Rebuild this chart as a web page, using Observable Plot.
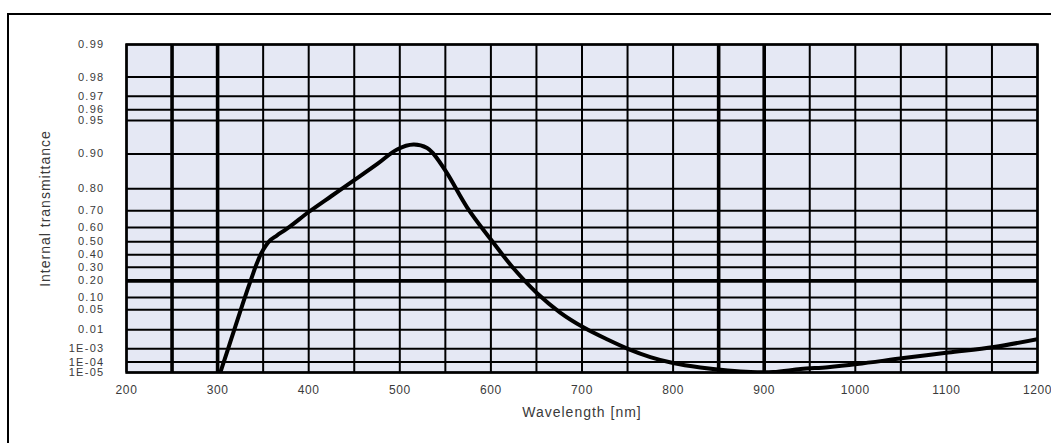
<!DOCTYPE html>
<html>
<head>
<meta charset="utf-8">
<script src="https://cdn.jsdelivr.net/npm/d3@7"></script>
<script src="https://cdn.jsdelivr.net/npm/@observablehq/plot@0.6"></script>
<style>
  html, body { margin: 0; padding: 0; background: #ffffff; }
  #wrap { position: relative; width: 1051px; height: 443px; overflow: hidden; }
  #border { position: absolute; left: 7px; top: 13px; width: 1100px; height: 500px;
            border-left: 2px solid #000; border-top: 2px solid #000; }
  #chart { position: absolute; left: 0; top: 0; }
  svg text { font-family: "Liberation Sans", Arial, sans-serif; letter-spacing: 1px; }
  svg g[aria-label="y-axis tick label"] text { letter-spacing: 1.3px; }
  svg g[aria-label="x-axis tick label"] text { letter-spacing: 0.6px; }
</style>
</head>
<body>
<div id="wrap"><div id="border"></div><div id="chart"></div></div>
<script>
// Data
const wavelength = [303, 308, 313, 318, 323, 328, 333, 338, 343, 348, 353, 358, 365, 380, 400, 425, 450, 475, 497, 515, 530, 537, 552, 574, 600, 625, 651, 676, 702, 728, 751, 775, 800, 830, 860, 885, 910, 940, 970, 1002, 1053, 1102, 1152, 1200];
const transmittance = [1e-5, 1.96e-4, 1.80e-3, 9.29e-3, 0.0313, 0.0770, 0.1469, 0.2344, 0.3297, 0.4124, 0.4707, 0.5117, 0.5445, 0.6091, 0.693, 0.771, 0.831, 0.877, 0.9087, 0.9175, 0.9114, 0.900, 0.852, 0.7167, 0.5155, 0.2908, 0.1209, 0.0417, 0.01245, 3.43e-3, 9.5e-4, 2.58e-4, 8.3e-5, 3.2e-5, 1.6e-5, 1.1e-5, 1.1e-5, 2.26e-5, 3.5e-5, 6.7e-5, 2.15e-4, 5.5e-4, 1.27e-3, 3.64e-3];

const yTickValues = [0.99, 0.98, 0.97, 0.96, 0.95, 0.90, 0.80, 0.70, 0.60, 0.50, 0.40, 0.30, 0.20, 0.10, 0.05, 0.01, 1e-3, 1e-4, 1e-5];
const yTickLabels = ["0.99", "0.98", "0.97", "0.96", "0.95", "0.90", "0.80", "0.70", "0.60", "0.50", "0.40", "0.30", "0.20", "0.10", "0.05", "0.01", "1E-03", "1E-04", "1E-05"];
const xTickValues = [200, 300, 400, 500, 600, 700, 800, 900, 1000, 1100, 1200];
const xGridValues = [200, 250, 300, 350, 400, 450, 500, 550, 600, 650, 700, 750, 800, 850, 900, 950, 1000, 1050, 1100, 1150, 1200];
const xGridThick = [250, 300, 850, 900];
const yGridThick = [0.20];

// double-logarithmic transmittance scale: log10(log10(1/tau))
const f = t => Math.log10(-Math.log10(t));

const curve = wavelength.map((w, i) => ({w, y: f(transmittance[i])}));
const yGrid = yTickValues.map((t, i) => ({y: f(t), thick: yGridThick.includes(t), label: yTickLabels[i]}));
const xGrid = xGridValues.map(w => ({w, thick: xGridThick.includes(w)}));
const labelOf = new Map(yGrid.map(d => [d.y, d.label]));

const chart = Plot.plot({
  width: 1051,
  height: 443,
  marginLeft: 126,
  marginTop: 44,
  marginRight: 14,
  marginBottom: 71,
  style: {background: "transparent", fontFamily: "Liberation Sans, Arial, sans-serif"},
  x: {domain: [200, 1200]},
  y: {domain: [f(1e-5), f(0.99)]},
  marks: [
    Plot.frame({fill: "#e5e8f4", stroke: null}),
    Plot.ruleX(xGrid, {x: "w", stroke: "#000", strokeWidth: d => d.thick ? 3.6 : 2}),
    Plot.ruleY(yGrid, {y: "y", stroke: "#000", strokeWidth: d => d.thick ? 3.6 : 2}),
    Plot.frame({stroke: "#000", strokeWidth: 2.5}),
    Plot.line(curve, {x: "w", y: "y", stroke: "#000", strokeWidth: 4, curve: "catmull-rom", clip: true}),
    Plot.axisX({ticks: xTickValues, tickSize: 0, tickPadding: 13, label: null, fontSize: 12, fill: "#3a3a3a", tickFormat: d => String(d)}),
    Plot.axisY({ticks: yGrid.map(d => d.y), tickSize: 0, tickPadding: 22, label: null, fontSize: 11, fill: "#3a3a3a", tickFormat: d => labelOf.get(d)}),
    Plot.text(["Wavelength [nm]"], {frameAnchor: "bottom", dy: 44, fontSize: 14, fill: "#3a3a3a"}),
    Plot.text(["Internal transmittance"], {frameAnchor: "left", textAnchor: "middle", dx: -81, rotate: -90, fontSize: 14, fill: "#3a3a3a"})
  ]
});
document.getElementById("chart").appendChild(chart);
</script>
</body>
</html>
